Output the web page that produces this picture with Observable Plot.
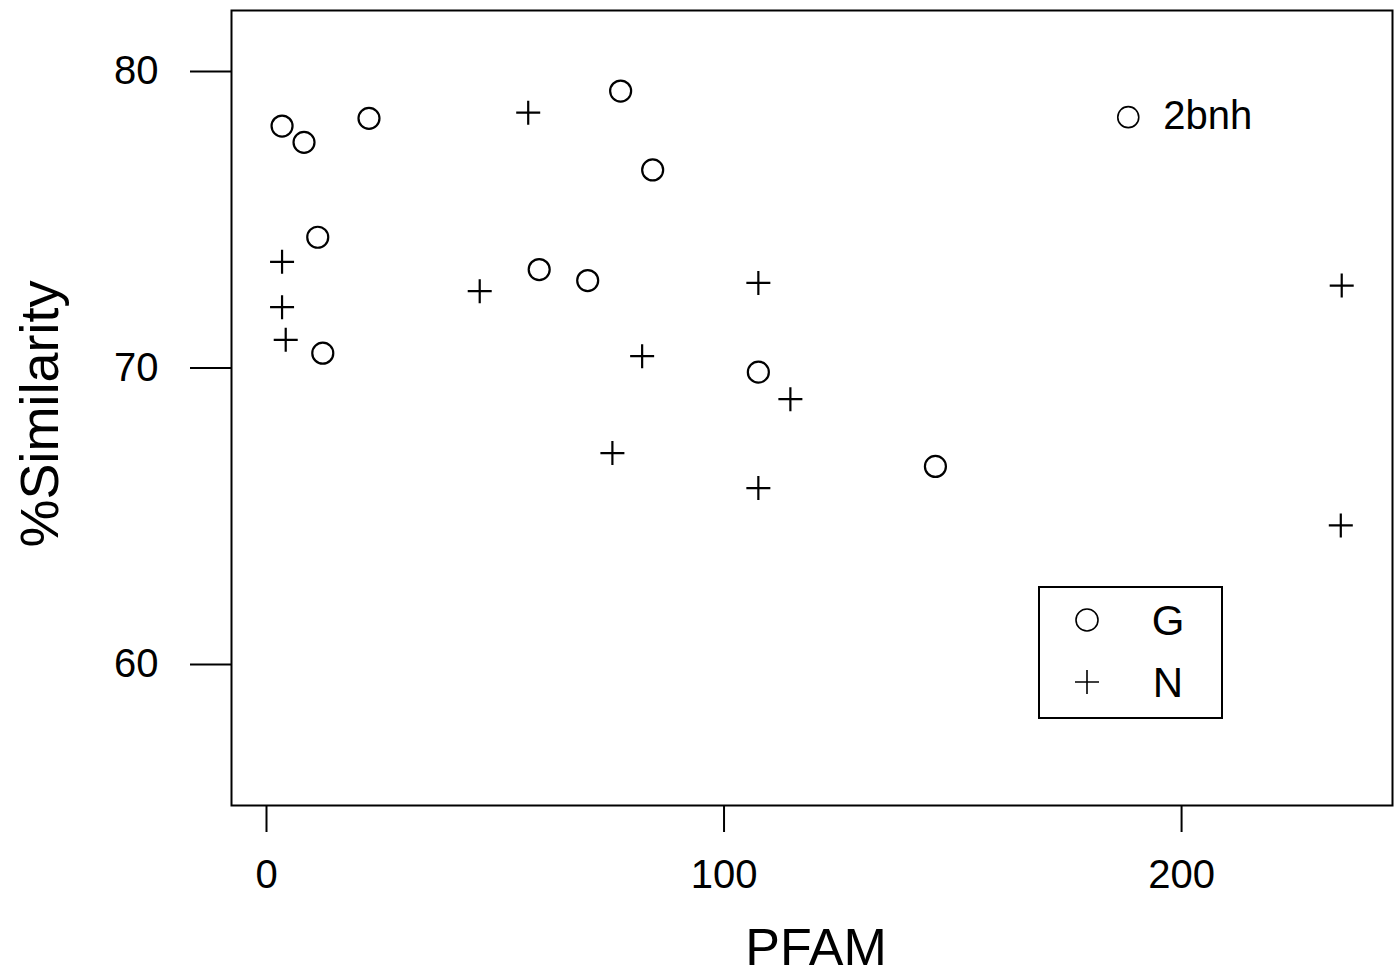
<!DOCTYPE html>
<html>
<head>
<meta charset="utf-8">
<script src="https://cdn.jsdelivr.net/npm/d3@7"></script>
<script src="https://cdn.jsdelivr.net/npm/@observablehq/plot@0.6"></script>
<style>
  html, body { margin: 0; padding: 0; background: #fff; }
  #wrap { position: relative; width: 1397px; height: 977px; }
  #wrap > svg { position: absolute; left: 0; top: 0; }
</style>
</head>
<body>
<div id="wrap"></div>
<script>
// ---- data ----
const gPfam = [3.4, 8.2, 22.4, 77.4, 84.4, 11.2, 12.3, 59.6, 70.2, 107.5, 146.2];
const gSim  = [78.16, 77.61, 78.42, 79.34, 76.68, 74.41, 70.50, 73.32, 72.95, 69.86, 66.68];
const nPfam = [3.4, 3.4, 4.2, 57.2, 46.6, 107.5, 82.1, 114.5, 75.6, 107.5, 235.0, 234.8];
const nSim  = [73.58, 72.05, 70.95, 78.61, 72.59, 72.87, 70.40, 68.95, 67.13, 65.95, 72.78, 64.69];
const notePfam = [188.35];
const noteSim = [78.46];
const noteText = ["2bnh"];
const xTicks = [0, 100, 200];
const yTicks = [60, 70, 80];
const legendLabels = ["G", "N"];
const xLabel = "PFAM";
const yLabel = "%Similarity";

const G = gPfam.map((x, i) => ({pfam: x, sim: gSim[i], group: "G"}));
const N = nPfam.map((x, i) => ({pfam: x, sim: nSim[i], group: "N"}));
const notes = notePfam.map((x, i) => ({pfam: x, sim: noteSim[i], label: noteText[i]}));

const circleSym = {draw(ctx, size) { const r = Math.sqrt(size / Math.PI); ctx.moveTo(r, 0); ctx.arc(0, 0, r, 0, 2 * Math.PI); }};
const plusSym = {draw(ctx, size) { const r = Math.sqrt(size / Math.PI); ctx.moveTo(-r, 0); ctx.lineTo(r, 0); ctx.moveTo(0, -r); ctx.lineTo(0, r); }};

const font = "'Liberation Sans', Arial, Helvetica, sans-serif";

const chart = Plot.plot({
  width: 1397,
  height: 977,
  marginLeft: 231,
  marginRight: 5,
  marginTop: 10,
  marginBottom: 172,
  style: {fontFamily: font, fontSize: "40px", color: "black", background: "white"},
  x: {domain: [-7.65, 246.1], nice: false},
  y: {domain: [55.245, 82.057], nice: false},
  marks: [
    Plot.frame({stroke: "black", strokeWidth: 2}),
    Plot.axisX({ticks: xTicks, tickSize: 27, tickPadding: 27, fontSize: 40, strokeWidth: 2, label: null, tickFormat: d => String(d)}),
    Plot.axisY({ticks: yTicks, tickSize: 41, tickPadding: 32, fontSize: 40, strokeWidth: 2, label: null, tickFormat: d => String(d)}),
    Plot.dot(G, {x: "pfam", y: "sim", symbol: () => circleSym, r: 10.5, stroke: "black", fill: "none", strokeWidth: 2.2}),
    Plot.dot(N, {x: "pfam", y: "sim", symbol: () => plusSym, r: 12, stroke: "black", fill: "none", strokeWidth: 2.2}),
    Plot.dot(notes, {x: "pfam", y: "sim", symbol: () => circleSym, r: 10.5, stroke: "black", fill: "none", strokeWidth: 1.6}),
    Plot.text(notes, {x: "pfam", y: "sim", text: "label", dx: 35, dy: -1, textAnchor: "start", fontSize: 40, fill: "black"}),
    Plot.text([xLabel], {text: d => d, frameAnchor: "bottom", textAnchor: "middle", dx: 4, dy: 143, lineAnchor: "middle", fontSize: 52, fill: "black"}),
    Plot.text([yLabel], {text: d => d, frameAnchor: "left", textAnchor: "middle", dx: -191, dy: 6, rotate: -90, lineAnchor: "middle", fontSize: 54, fill: "black"})
  ]
});

const wrap = document.getElementById("wrap");
wrap.appendChild(chart);

// ---- legend overlay ----
const leg = d3.select(wrap).append("svg")
  .attr("width", 1397).attr("height", 977)
  .style("pointer-events", "none")
  .style("font-family", font);
leg.append("rect")
  .attr("x", 1039).attr("y", 587).attr("width", 183).attr("height", 131)
  .attr("fill", "white").attr("stroke", "black").attr("stroke-width", 2);
const syms = [circleSym, plusSym];
const symR = [11, 12];
legendLabels.forEach((lab, i) => {
  const cy = 620 + i * 62;
  leg.append("path")
    .attr("transform", `translate(1087,${cy})`)
    .attr("d", d3.symbol(syms[i], Math.PI * symR[i] * symR[i])())
    .attr("fill", "none").attr("stroke", "black").attr("stroke-width", 1.6);
  leg.append("text")
    .attr("x", 1168).attr("y", cy).attr("dy", "0.36em")
    .attr("text-anchor", "middle").attr("font-size", 42).attr("fill", "black")
    .text(lab);
});
</script>
</body>
</html>
